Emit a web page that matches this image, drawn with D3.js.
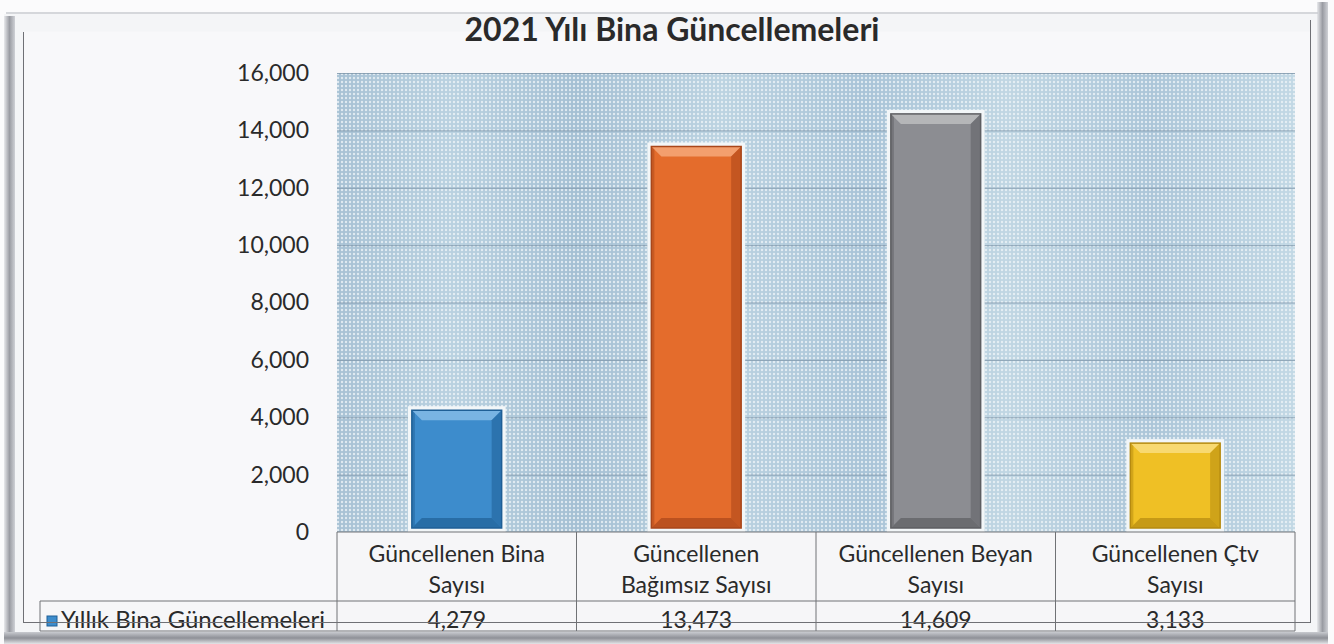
<!DOCTYPE html>
<html><head><meta charset="utf-8">
<script src="https://cdn.jsdelivr.net/npm/d3@7"></script>
<style>
html,body{margin:0;padding:0;background:#fbfbfc;}
svg{display:block;}
text{font-family:Lato,"Open Sans",sans-serif;fill:#2a2a2a;}
</style></head>
<body>
<svg id="c" width="1334" height="644"></svg>
<script>
const title = "2021 Yılı Bina Güncellemeleri";
const seriesName = "Yıllık Bina Güncellemeleri";
const categories = ["Güncellenen Bina Sayısı","Güncellenen Bağımsız Sayısı","Güncellenen Beyan Sayısı","Güncellenen Çtv Sayısı"];
const categoryLines = [["Güncellenen Bina","Sayısı"],["Güncellenen","Bağımsız Sayısı"],["Güncellenen Beyan","Sayısı"],["Güncellenen Çtv","Sayısı"]];
const values = [4279, 13473, 14609, 3133];
const valueLabels = ["4,279","13,473","14,609","3,133"];
const yTicks = [0,2000,4000,6000,8000,10000,12000,14000,16000];
const barColors = ["#3d8ccc","#e46c2c","#8c8d92","#efc025"];
const barDark = ["#1f5f96","#a9461a","#5d5e62","#b58a10"];
const barLight = ["#7fb8e6","#f4a576","#b9babd","#f8dc7a"];

const svg = d3.select("#c");
const defs = svg.append("defs");

// page frame
const frameG = svg.append("g");
const lg = defs.append("linearGradient").attr("id","edgeL").attr("x1",0).attr("x2",1);
lg.append("stop").attr("offset",0).attr("stop-color","#e8e9ec");
lg.append("stop").attr("offset",0.5).attr("stop-color","#9a9ca3");
lg.append("stop").attr("offset",1).attr("stop-color","#cfd1d6");
const lb = defs.append("linearGradient").attr("id","edgeB").attr("x1",0).attr("x2",0).attr("y1",0).attr("y2",1);
lb.append("stop").attr("offset",0).attr("stop-color","#c8cacf");
lb.append("stop").attr("offset",0.5).attr("stop-color","#8e9097");
lb.append("stop").attr("offset",1).attr("stop-color","#e4e5e8");
frameG.append("rect").attr("x",4).attr("y",14).attr("width",1324).attr("height",630).attr("fill","#f4f5f7");
frameG.append("rect").attr("x",4).attr("y",16).attr("width",11).attr("height",628).attr("fill","url(#edgeL)");
frameG.append("rect").attr("x",1317).attr("y",2).attr("width",11).attr("height",642).attr("fill","url(#edgeL)");
frameG.append("rect").attr("x",4).attr("y",632).attr("width",1324).attr("height",12).attr("fill","url(#edgeB)");
frameG.append("line").attr("x1",6).attr("x2",1318).attr("y1",13).attr("y2",13).attr("stroke","#c9cbd0").attr("stroke-width",1.5);
frameG.append("rect").attr("x",23.5).attr("y",31.5).attr("width",1287).attr("height",591).attr("fill","#f8f8fa");
frameG.append("line").attr("x1",23.5).attr("x2",23.5).attr("y1",32).attr("y2",623).attr("stroke","#6f7075");
frameG.append("line").attr("x1",1310.5).attr("x2",1310.5).attr("y1",20).attr("y2",623).attr("stroke","#6f7075");

// plot
const pLeft = 337, pRight = 1295, pTop = 73, pBottom = 532;
const x = d3.scaleBand().domain(categories).range([pLeft,pRight]).paddingInner(0.6).paddingOuter(0.3);
const y = d3.scaleLinear().domain([0,16000]).range([pBottom,pTop]);

// plot background
const bgGrad = defs.append("linearGradient").attr("id","bgG").attr("x1",0).attr("x2",1);
const bgStops = [["0","#a7c1d4"],["0.12","#b9d1e0"],["0.25","#a4bfd3"],["0.4","#bcd3e1"],["0.55","#a8c3d7"],["0.7","#c0d6e3"],["0.85","#abc5d8"],["1","#c2d8e5"]];
bgStops.forEach(s=>bgGrad.append("stop").attr("offset",s[0]).attr("stop-color",s[1]));
const pat = defs.append("pattern").attr("id","dots").attr("width",4).attr("height",4).attr("patternUnits","userSpaceOnUse");
pat.append("circle").attr("cx",2).attr("cy",2).attr("r",1.2).attr("fill","#eef4f8").attr("opacity",0.8);
svg.append("rect").attr("x",pLeft).attr("y",pTop).attr("width",pRight-pLeft).attr("height",pBottom-pTop).attr("fill","url(#bgG)");
svg.append("rect").attr("x",pLeft).attr("y",pTop).attr("width",pRight-pLeft).attr("height",pBottom-pTop).attr("fill","url(#dots)");

// gridlines
svg.append("g").attr("transform",`translate(${pLeft},0)`)
  .call(d3.axisLeft(y).tickValues(yTicks).tickSize(-(pRight-pLeft)).tickFormat(""))
  .call(g=>g.select(".domain").remove())
  .call(g=>g.selectAll("line").attr("stroke","#7d95a9").attr("stroke-width",1).attr("opacity",0.8));

// y axis labels
svg.append("g").attr("transform",`translate(${pLeft},0)`)
  .call(d3.axisLeft(y).tickValues(yTicks).tickSize(0).tickPadding(28).tickFormat(d3.format(",")))
  .call(g=>g.select(".domain").remove())
  .call(g=>g.selectAll("text").attr("font-size",23).attr("fill","#2a2a2a").style("font-family","Lato,'Open Sans',sans-serif"));

// bars with bevel
const bars = svg.append("g");
categories.forEach((c,i)=>{
  const x0 = x(c), w = x.bandwidth(), y0 = y(values[i]), y1 = y(0);
  const g = bars.append("g");
  g.append("rect").attr("x",x0-1).attr("y",y0-3).attr("width",w+2).attr("height",y1-y0+3).attr("fill","#f2f6f8");
  const ix0 = x0+3, iy0 = y0+1, iw = w-6, ih = y1-y0-5;
  g.append("rect").attr("x",ix0).attr("y",iy0).attr("width",iw).attr("height",ih).attr("fill",barColors[i]);
  const b = 10;
  const ix1 = ix0+iw, iy1 = iy0+ih;
  g.append("polygon").attr("points",[[ix0,iy0],[ix1,iy0],[ix1-b,iy0+b],[ix0+b,iy0+b]].join(" ")).attr("fill",barLight[i]).attr("opacity",0.9);
  g.append("polygon").attr("points",[[ix0,iy0],[ix0+3,iy0+3],[ix0+3,iy1-3],[ix0,iy1]].join(" ")).attr("fill",barDark[i]).attr("opacity",0.5);
  g.append("polygon").attr("points",[[ix1,iy0],[ix1-b,iy0+b],[ix1-b,iy1-b],[ix1,iy1]].join(" ")).attr("fill",barDark[i]).attr("opacity",0.55);
  g.append("polygon").attr("points",[[ix0,iy1],[ix0+b,iy1-b],[ix1-b,iy1-b],[ix1,iy1]].join(" ")).attr("fill",barDark[i]).attr("opacity",0.7);
  g.append("rect").attr("x",ix0).attr("y",iy0).attr("width",iw).attr("height",ih).attr("fill","none").attr("stroke",barDark[i]).attr("stroke-width",1.5);
});

// data table
const tRowY = 601, tBottom = 631;
const tbl = svg.append("g");
tbl.append("rect").attr("x",pLeft).attr("y",pBottom).attr("width",pRight-pLeft).attr("height",tBottom-pBottom).attr("fill","#f6f6f8");
tbl.append("rect").attr("x",40).attr("y",tRowY).attr("width",pLeft-40).attr("height",tBottom-tRowY).attr("fill","#f6f6f8");
const stroke = "#707276";
categories.map((c,i)=>pLeft + i*x.step()).concat([pRight]).forEach(bx=>{
  tbl.append("line").attr("x1",bx).attr("x2",bx).attr("y1",pBottom).attr("y2",tBottom).attr("stroke",stroke).attr("stroke-width",1);
});
tbl.append("line").attr("x1",pLeft).attr("x2",pRight).attr("y1",pBottom).attr("y2",pBottom).attr("stroke",stroke);
tbl.append("line").attr("x1",40).attr("x2",pRight).attr("y1",tRowY).attr("y2",tRowY).attr("stroke",stroke);
tbl.append("line").attr("x1",40).attr("x2",40).attr("y1",tRowY).attr("y2",tBottom).attr("stroke",stroke);
tbl.append("line").attr("x1",40).attr("x2",pRight).attr("y1",tBottom).attr("y2",tBottom).attr("stroke",stroke);

categories.forEach((c,i)=>{
  const cx = x(c)+x.bandwidth()/2;
  categoryLines[i].forEach((ln,j)=>{
    tbl.append("text").attr("x",cx).attr("y",562+j*31).attr("text-anchor","middle").attr("font-size",23).text(ln);
  });
  tbl.append("text").attr("x",cx).attr("y",628).attr("text-anchor","middle").attr("font-size",23).text(valueLabels[i]);
});
tbl.append("rect").attr("x",47).attr("y",616).attr("width",10).attr("height",10).attr("fill","#3d8ccc").attr("stroke","#1f5f96");
tbl.append("text").attr("x",61).attr("y",628).attr("font-size",24).text(seriesName);

svg.append("line").attr("x1",24).attr("x2",1310).attr("y1",622.5).attr("y2",622.5).attr("stroke","#6f7075").attr("stroke-width",1);

svg.append("text").attr("x",672).attr("y",41).attr("text-anchor","middle").attr("font-size",32).attr("font-weight","bold").attr("fill","#2b2b2b").text(title);
</script>
</body></html>
